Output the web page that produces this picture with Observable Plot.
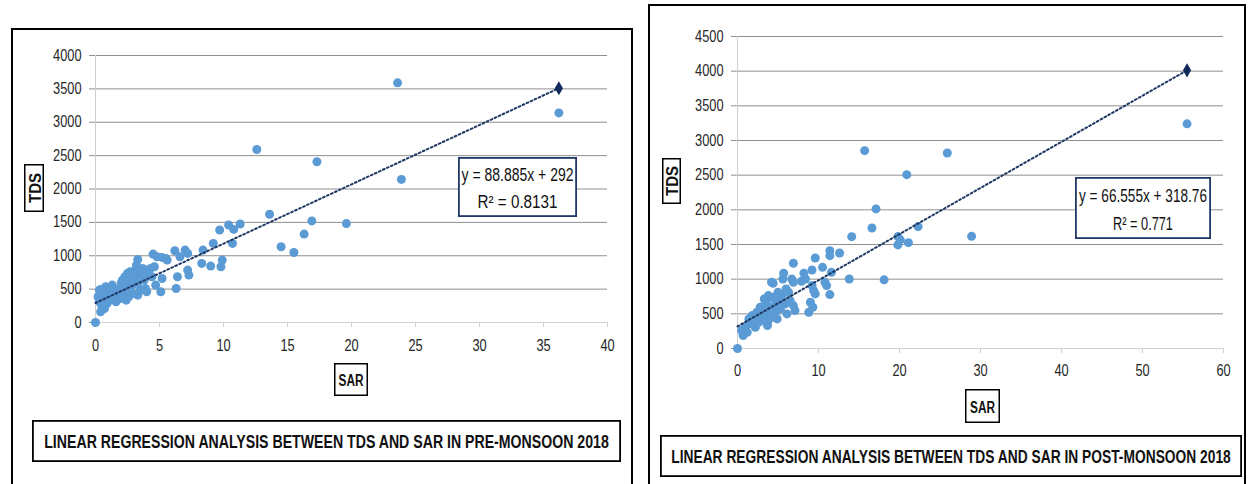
<!DOCTYPE html>
<html>
<head>
<meta charset="utf-8">
<script src="https://cdn.jsdelivr.net/npm/d3@7"></script>
<script src="https://cdn.jsdelivr.net/npm/@observablehq/plot@0.6"></script>
<style>
  html, body { margin: 0; padding: 0; background: #fff; }
  #page { position: relative; width: 1248px; height: 484px; overflow: hidden; background: #fff;
          font-family: "Liberation Sans", Arial, sans-serif; }
  .frame { position: absolute; border: 2px solid #000; box-sizing: border-box; }
  .abs { position: absolute; left: 0; top: 0; }
  svg.box { position: absolute; overflow: visible; }
</style>
</head>
<body>
<div id="page">
  <div class="frame" style="left:11px;top:28px;width:622px;height:500px"></div>
  <div class="frame" style="left:648px;top:4px;width:598px;height:520px"></div>
  <div id="pre" class="abs" style="left:0px"></div>
  <div id="post" class="abs" style="left:640px"></div>
</div>
<script>
// ---------- DATA ----------
// Pre-monsoon 2018
const sarPre = [0,
  0.3,0.4,0.2,0.3,0.5,0.4,0.7,0.9,0.8,1.1,1.2,1.5,1.3,1.6,1.7,1.8,2.0,2.1,2.2,2.4,2.5,2.6,2.6,2.8,2.9,
  3.0,3.1,3.2,3.3,3.3,3.3,3.4,3.5,3.7,3.8,3.9,3.9,4.0,4.2,4.3,4.6,4.7,4.5,4.8,5.2,5.5,5.6,5.2,5.1,4.4,
  0.9,0.5,2.0,2.4,0.8,2.7,2.3,
  6.2,6.6,7.0,7.2,7.2,7.3,6.4,6.3,8.4,8.3,9.0,9.2,9.7,9.9,9.8,10.4,10.8,11.3,10.7,
  12.6,17.3,23.9,23.6,36.2,13.6,16.9,19.6,16.3,14.5,15.5];
const tdsPre = [0,
  485,495,385,310,235,160,210,285,385,335,435,495,560,310,385,485,585,635,410,510,735,610,385,535,435,
  660,785,860,945,410,585,710,485,810,635,735,510,460,785,810,835,560,1025,985,975,960,935,660,460,685,
  460,360,360,335,535,760,685,
  1075,985,1085,1035,785,710,685,510,1085,885,845,1185,1385,935,835,1460,1395,1475,1185,
  2592,2408,2144,3590,3140,1622,1522,1482,1324,1134,1049];

// Post-monsoon 2018
const sarPost = [0,
  0.7,0.5,0.9,1.2,1.4,1.4,1.8,2.0,2.2,2.4,2.6,2.6,2.8,3.0,3.0,3.2,3.3,3.4,3.6,3.6,3.7,3.8,3.8,4.0,4.2,
  4.2,4.4,4.4,4.7,4.7,4.9,5.0,5.1,5.3,5.5,5.6,5.7,5.9,6.0,6.1,6.3,6.5,6.7,6.9,6.9,6.9,7.1,
  7.9,8.2,8.4,8.8,9.0,9.2,9.2,9.3,9.4,9.6,9.6,10.5,10.8,11.0,11.4,11.4,11.4,11.6,12.6,13.8,14.1,16.6,
  15.7,25.9,20.9,17.1,22.3,28.9,19.8,20.1,19.8,21.1,18.1,55.5];
const tdsPost = [0,
  187,259,307,235,355,427,475,403,307,523,499,379,595,451,595,403,715,643,691,523,331,763,403,595,955,
  451,941,739,643,523,427,811,691,571,763,1003,1085,643,859,499,811,691,1003,955,619,1229,547,
  970,1085,1003,523,667,907,1133,595,835,787,1306,1171,955,907,778,1411,1339,1099,1378,1003,1613,1738,
  2853,2820,2507,2013,1758,1618,1614,1566,1494,1527,990,3240];

// Regression results printed on the charts
const slopePre = 88.885, interceptPre = 292, r2Pre = 0.8131;
const slopePost = 66.555, interceptPost = 318.76, r2Post = 0.771;

// Tick values
const xTicksPre = [0,5,10,15,20,25,30,35,40];
const yTicksPre = [0,500,1000,1500,2000,2500,3000,3500,4000];
const xTicksPost = [0,10,20,30,40,50,60];
const yTicksPost = [0,500,1000,1500,2000,2500,3000,3500,4000,4500];

// Texts
const titlePre = "LINEAR REGRESSION ANALYSIS BETWEEN TDS AND SAR IN PRE-MONSOON 2018";
const titlePost = "LINEAR REGRESSION ANALYSIS BETWEEN TDS AND SAR IN POST-MONSOON 2018";
const xLabel = "SAR", yLabel = "TDS";

// ---------- DRAW ----------
const FONT = '"Liberation Sans", Arial, sans-serif';
const DOT = "#5b9bd5", NAVY = "#1f3864", GRID = "#8f8f8f", AXIS = "#d0d0d0";
const NARROW = 0.8;   // horizontal condensing of text (reference uses a condensed face)

// condense a text element horizontally about its anchor x
function condense(t, s) {
  const ax = parseFloat(t.getAttribute("x")) || 0;
  const tr = t.getAttribute("transform") || "";
  t.setAttribute("transform", `${tr} translate(${ax},0) scale(${s},1) translate(${-ax},0)`);
}

function chart(sar, tds, slope, intercept, xTicks, yTicks, layout) {
  const pts = sar.map((s, i) => ({sar: s, tds: tds[i]}));
  const xmax = d3.max(sar);
  const trend = [0, xmax].map(x => ({sar: x, tds: slope * x + intercept}));
  const svg = Plot.plot({
    width: layout.width, height: layout.height,
    marginLeft: layout.ml, marginRight: layout.mr, marginTop: layout.mt, marginBottom: layout.mb,
    style: {fontFamily: FONT, fontSize: "16px", background: "transparent", overflow: "visible", color: "#262626"},
    x: {domain: [xTicks[0], xTicks[xTicks.length - 1]]},
    y: {domain: [yTicks[0], yTicks[yTicks.length - 1]]},
    marks: [
      Plot.ruleY(yTicks.slice(1), {stroke: GRID, strokeWidth: 1}),
      Plot.ruleY([0], {stroke: AXIS, strokeWidth: 1}),
      Plot.ruleX([0], {stroke: AXIS, strokeWidth: 1}),
      Plot.axisX({ticks: xTicks, tickSize: 5, tickPadding: layout.xpad, stroke: AXIS, fill: "#262626", label: null, tickFormat: d => String(d)}),
      Plot.axisY({ticks: yTicks, tickSize: 6, tickPadding: 8, stroke: GRID, fill: "#262626", label: null, tickFormat: d => String(d)}),
      Plot.dot(pts, {x: "sar", y: "tds", r: 4.5, fill: DOT, stroke: "none"}),
      Plot.line(trend, {x: "sar", y: "tds", stroke: NAVY, strokeWidth: 2, strokeDasharray: "1.8 2.6"}),
      Plot.dot(trend.slice(1), {x: "sar", y: "tds", symbol: "diamond", r: 4.3, fill: "#10285a", stroke: "none"})
    ]
  });
  svg.querySelectorAll('g[aria-label$="tick label"] text').forEach(t => condense(t, NARROW));
  return svg;
}

document.getElementById("pre").append(
  chart(sarPre, tdsPre, slopePre, interceptPre, xTicksPre, yTicksPre,
        {width: 640, height: 420, ml: 95, mr: 33, mt: 55, mb: 98, xpad: 12}));
document.getElementById("post").append(
  chart(sarPost, tdsPost, slopePost, interceptPost, xTicksPost, yTicksPost,
        {width: 608, height: 420, ml: 97, mr: 25, mt: 36, mb: 72, xpad: 11}));

// Boxed labels
const NS = "http://www.w3.org/2000/svg";
function box(x, y, w, h, lines, opt) {
  const svg = document.createElementNS(NS, "svg");
  svg.setAttribute("class", "box");
  svg.setAttribute("width", w); svg.setAttribute("height", h);
  svg.style.left = x + "px"; svg.style.top = y + "px";
  const r = document.createElementNS(NS, "rect");
  const sw = opt.sw || 1.5;
  r.setAttribute("x", sw / 2); r.setAttribute("y", sw / 2);
  r.setAttribute("width", w - sw); r.setAttribute("height", h - sw);
  r.setAttribute("fill", "#fff"); r.setAttribute("stroke", opt.stroke || "#000");
  r.setAttribute("stroke-width", sw);
  svg.append(r);
  document.getElementById("page").append(svg);
  lines.forEach(ln => {
    const t = document.createElementNS(NS, "text");
    t.textContent = ln.text;
    t.setAttribute("font-family", FONT);
    t.setAttribute("font-size", opt.size);
    t.setAttribute("font-weight", opt.bold ? "bold" : "normal");
    t.setAttribute("fill", "#111");
    t.setAttribute("text-anchor", "middle");
    t.setAttribute("dominant-baseline", "central");
    t.setAttribute("x", 0); t.setAttribute("y", 0);
    svg.append(t);
    const natural = t.getComputedTextLength();
    const s = ln.len ? Math.min(1, ln.len / natural) : 1;
    const cy = ln.cy !== undefined ? ln.cy : h / 2 + 1;
    if (opt.rotate) {
      t.setAttribute("transform", `translate(${w / 2 + 1},${h / 2}) rotate(-90) scale(${s},1)`);
    } else {
      t.setAttribute("transform", `translate(${w / 2},${cy}) scale(${s},1)`);
    }
  });
}

// Pre-monsoon panel
box(24, 164, 20, 48, [{text: yLabel, len: 30}], {size: 16, bold: true, rotate: true, sw: 1.5});
box(334, 363, 34, 33, [{text: xLabel, len: 25}], {size: 17, bold: true, sw: 1.5});
box(458, 157, 119, 60, [
  {text: `y = ${slopePre}x + ${interceptPre}`, len: 112, cy: 17},
  {text: `R² = ${r2Pre}`, len: 80, cy: 45}], {size: 18, stroke: NAVY, sw: 1.8});
box(32, 420, 589, 42, [{text: titlePre, len: 565}], {size: 19, bold: true, sw: 1.8});

// Post-monsoon panel
box(662, 158, 19, 46, [{text: yLabel, len: 30}], {size: 16, bold: true, rotate: true, sw: 1.5});
box(965, 389, 35, 34, [{text: xLabel, len: 25}], {size: 17, bold: true, sw: 1.5});
box(1075, 177, 136, 62, [
  {text: `y = ${slopePost}x + ${interceptPost}`, len: 128, cy: 19},
  {text: `R² = ${r2Post}`, len: 60, cy: 47}], {size: 18, stroke: NAVY, sw: 1.8});
box(660, 435, 582, 42, [{text: titlePost, len: 560}], {size: 19, bold: true, sw: 1.8});
</script>
</body>
</html>
